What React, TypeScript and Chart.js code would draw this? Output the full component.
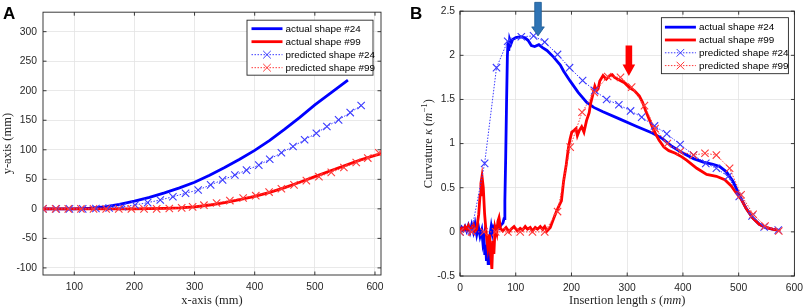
import React, { useEffect, useRef } from 'react';
import { Chart, registerables } from 'chart.js';
Chart.register(...registerables);

// ---------------- Panel A data ----------------
const A_xTicks = [100, 200, 300, 400, 500, 600];
const A_yTicks = [-100, -50, 0, 50, 100, 150, 200, 250, 300];

const A_blueActualX = [48, 75, 100, 125, 150, 175, 200, 225, 250, 275, 300, 325, 350, 375, 400, 425, 450, 475, 500, 525, 555];
const A_blueActualY = [0, 0, 0, 1, 3.5, 7.5, 13, 19.5, 27, 35.5, 45, 57, 70, 84, 99, 116, 135, 155, 176, 195, 218];

const A_redActualX = [48, 100, 150, 200, 225, 250, 275, 300, 325, 350, 375, 400, 425, 450, 475, 500, 525, 550, 575, 600, 612];
const A_redActualY = [0, 0, 0, 0, 0.3, 0.8, 1.8, 3.5, 6.5, 10.5, 15.5, 21, 28, 36, 45, 54.5, 64, 73.5, 82.5, 90.5, 94];

const A_bluePredX = [48, 70, 92, 114, 136, 158, 180, 201, 222, 243, 264, 285, 306, 326.7, 346.6, 367, 386.4, 406.8, 425, 444.4, 463.7, 483, 502.5, 520, 539.5, 558.8, 577];
const A_bluePredY = [0, 0, 0, 0, 0.5, 1.5, 3.5, 6.5, 10.5, 15, 20.5, 26.5, 32, 40.6, 49, 57.3, 65.6, 74, 84, 95, 105.6, 117, 128, 139.5, 150.6, 163, 175];

const A_redPredX = [48, 69, 90, 111, 132, 153, 174, 195, 216, 237, 258, 278.6, 296.8, 315.6, 336.6, 358.7, 380.8, 401.8, 423.9, 444.4, 465.4, 485.9, 506.8, 527.3, 548.3, 568.8, 588, 606.3];
const A_redPredY = [0, 0, 0, 0, 0, 0, 0, 0, 0, 0, 0.5, 1.7, 3.4, 6.2, 10, 14, 18.4, 22.3, 28.4, 34, 40.6, 47.8, 54.5, 61.7, 70, 78.4, 86, 95];

// ---------------- Panel B data ----------------
const B_xTicks = [0, 100, 200, 300, 400, 500, 600];
const B_yTicks = [-0.5, 0, 0.5, 1, 1.5, 2, 2.5];

const B_blueActualS = [0, 3, 6, 9, 12, 15, 18, 21, 24, 27, 30, 33, 36, 39, 41, 43, 44.5, 46, 47.5, 49, 50.5, 52, 54, 56, 58, 60, 63, 66, 70, 74, 77, 79, 80.5, 82, 83.5, 85, 86.2, 87.5, 89, 91.5, 94.4, 100, 109, 116, 122, 128, 134, 141.5, 147.4, 156, 168, 180, 186, 197.5, 212, 227, 240, 256.5, 286, 315, 345, 362.6, 380, 398, 419, 436.6, 454, 466, 478, 490, 501, 513, 525, 537, 548.7, 560.5, 571];
const B_blueActualK = [0.01, 0.05, 0.02, 0.06, 0.01, 0.07, 0.0, 0.08, 0.0, 0.09, -0.03, 0.06, -0.05, 0.02, -0.12, -0.05, -0.26, -0.15, -0.33, -0.14, -0.36, -0.1, -0.03, 0.06, -0.02, 0.05, 0.01, 0.06, 0.04, 0.08, 0.1, 0.15, 0.35, 0.85, 1.45, 1.99, 2.16, 2.05, 2.18, 2.13, 2.18, 2.2, 2.21, 2.2, 2.17, 2.11, 2.1, 2.12, 2.09, 2.055, 1.98, 1.89, 1.82, 1.71, 1.58, 1.47, 1.41, 1.36, 1.28, 1.2, 1.12, 1.06, 0.97, 0.9, 0.83, 0.79, 0.765, 0.74, 0.68, 0.57, 0.42, 0.27, 0.16, 0.086, 0.048, 0.03, 0.019];

const B_redActualS = [0, 3, 6, 9, 12, 15, 18, 21, 24, 27, 30, 33.6, 36, 37.5, 39.5, 41.8, 44.2, 47.2, 50, 53, 54.8, 57.2, 59, 60.8, 63, 66, 68, 70, 72.6, 76.7, 82.6, 88, 91.5, 97, 103, 108, 112, 117, 121, 126, 130, 135, 139, 144, 148, 152, 156, 162, 168, 173, 178, 182, 185.8, 190.6, 194.7, 197.5, 200.6, 204.7, 208.2, 210.6, 214.2, 218.3, 222.4, 227, 231.8, 234.2, 237.8, 241.9, 245, 247.8, 250.8, 256.6, 262.5, 268.5, 273.1, 277.3, 283.2, 295, 303.9, 312.7, 321.6, 327.4, 333.3, 339.2, 345.1, 351, 357, 365.8, 374.7, 386.4, 398, 407, 424.8, 442.5, 460, 475, 486.7, 495.6, 504.4, 513, 525, 537, 548.7, 560.5, 575];
const B_redActualK = [0.01, 0.04, 0.02, 0.06, 0.03, 0.07, 0.0, 0.05, 0.08, 0.01, 0.03, 0.2, 0.42, 0.55, 0.63, 0.5, 0.2, -0.03, -0.18, -0.03, -0.25, -0.42, -0.1, -0.25, 0.05, -0.02, 0.12, 0.16, 0.04, 0.01, 0.05, 0.0, 0.03, 0.06, 0.01, 0.04, 0.02, 0.06, 0.03, 0.05, 0.01, 0.05, 0.03, 0.06, 0.03, 0.06, 0.01, 0.05, 0.15, 0.23, 0.3, 0.35, 0.57, 0.76, 0.96, 1.05, 1.13, 1.15, 1.17, 1.09, 1.15, 1.19, 1.13, 1.26, 1.35, 1.45, 1.54, 1.65, 1.6, 1.62, 1.71, 1.77, 1.73, 1.77, 1.78, 1.75, 1.73, 1.69, 1.635, 1.6, 1.54, 1.47, 1.37, 1.28, 1.19, 1.11, 1.04, 0.96, 0.92, 0.89, 0.85, 0.81, 0.72, 0.65, 0.63, 0.59, 0.52, 0.44, 0.37, 0.27, 0.16, 0.086, 0.05, 0.03, 0.01];

const B_bluePredS = [0, 20.7, 44.2, 65.5, 85.5, 110, 132, 152, 175, 196.5, 220, 241.8, 263, 285, 306, 326, 349, 371, 395, 419, 441, 460, 481, 501, 524, 545.7, 571];
const B_bluePredK = [0, 0.01, 0.776, 1.86, 2.16, 2.21, 2.22, 2.15, 2.01, 1.86, 1.715, 1.6, 1.5, 1.44, 1.37, 1.3, 1.2, 1.11, 0.99, 0.87, 0.776, 0.72, 0.627, 0.4, 0.18, 0.056, 0.02];

const B_redPredS = [0, 21, 43, 64, 86, 108, 130, 152, 175, 197.7, 219, 241, 265, 288, 308, 331, 350, 372, 395, 419, 439.5, 460, 483.7, 504.4, 526, 547.4, 572];
const B_redPredK = [0, 0, 0, 0, 0, 0, 0, 0, 0.23, 0.96, 1.355, 1.58, 1.76, 1.75, 1.64, 1.43, 1.17, 1.0, 0.91, 0.87, 0.89, 0.87, 0.72, 0.42, 0.2, 0.067, 0.01];

// arrow annotations (data space)
const B_arrowS = [140, 303];
const B_arrowTipK = [2.22, 1.766];
const B_arrowTailK = [2.6, 2.11];
const B_arrowColors = ['#2f74b5', '#ff0000'];

const LABELS = ['actual shape #24', 'actual shape #99', 'predicted shape #24', 'predicted shape #99'];

// ---------------- styling ----------------
const SANS = "'Liberation Sans', Arial, Helvetica, sans-serif";
const SERIF = "'Liberation Serif', 'Times New Roman', serif";
const AXIS = '#262626';
const GRID = '#e3e3e3';
const BLUE = '#0000ff';
const RED = '#ff0000';
const BLUE_P = '#3a3aff';
const RED_P = '#ff3a3a';

const zip = (xs: number[], ys: number[]) => xs.map((x, i) => ({ x, y: ys[i] }));

const actualDs = (label: string, xs: number[], ys: number[], color: string, order: number) => ({
  label,
  data: zip(xs, ys),
  borderColor: color,
  backgroundColor: color,
  borderWidth: 2.8,
  pointRadius: 0,
  tension: 0,
  fill: false,
  order,
  clip: 0,
});

const predDs = (label: string, xs: number[], ys: number[], color: string, order: number) => ({
  label,
  data: zip(xs, ys),
  borderColor: color,
  backgroundColor: color,
  borderWidth: 1,
  borderDash: [1.5, 1.5],
  pointStyle: 'crossRot',
  pointRadius: 5.2,
  pointBorderWidth: 1.1,
  pointBorderColor: color,
  pointBackgroundColor: color,
  tension: 0,
  fill: false,
  order,
});

type Seg = { t: string; italic?: boolean; sup?: boolean };

function drawRich(ctx: CanvasRenderingContext2D, segs: Seg[], x: number, y: number, size: number) {
  const fontFor = (s: Seg) => `${s.italic ? 'italic ' : ''}${s.sup ? size * 0.72 : size}px ${SERIF}`;
  let total = 0;
  const ws = segs.map((s) => {
    ctx.font = fontFor(s);
    const w = ctx.measureText(s.t).width;
    total += w;
    return w;
  });
  let cx = x - total / 2;
  ctx.textAlign = 'left';
  ctx.textBaseline = 'alphabetic';
  segs.forEach((s, i) => {
    ctx.font = fontFor(s);
    ctx.fillText(s.t, cx, s.sup ? y - size * 0.4 : y);
    cx += ws[i];
  });
}

type Cfg = {
  letter: string;
  letterX: number;
  letterY: number;
  xTitle: Seg[];
  yTitle: Seg[];
  yTitleX: number;
  legend: { right: number; top: number; w: number; h: number; first: number; gap: number; lx0: number; lx1: number; tx: number };
  arrows?: boolean;
};

function makePlugin(cfg: Cfg) {
  return {
    id: 'matlabLook',
    beforeDatasetsDraw(chart: any) {
      const { ctx, chartArea: ca, scales } = chart;
      ctx.save();
      ctx.strokeStyle = AXIS;
      ctx.lineWidth = 0.9;
      ctx.strokeRect(ca.left, ca.top, ca.right - ca.left, ca.bottom - ca.top);
      const tl = 3.5;
      ctx.beginPath();
      scales.x.ticks.forEach((t: any) => {
        const px = scales.x.getPixelForValue(t.value);
        ctx.moveTo(px, ca.bottom);
        ctx.lineTo(px, ca.bottom - tl);
        ctx.moveTo(px, ca.top);
        ctx.lineTo(px, ca.top + tl);
      });
      scales.y.ticks.forEach((t: any) => {
        const py = scales.y.getPixelForValue(t.value);
        ctx.moveTo(ca.left, py);
        ctx.lineTo(ca.left + tl, py);
        ctx.moveTo(ca.right, py);
        ctx.lineTo(ca.right - tl, py);
      });
      ctx.stroke();
      ctx.restore();
    },
    afterDatasetsDraw(chart: any) {
      if (!cfg.arrows) return;
      const { ctx, scales } = chart;
      ctx.save();
      B_arrowS.forEach((s, i) => {
        const cx = scales.x.getPixelForValue(s);
        const tip = scales.y.getPixelForValue(B_arrowTipK[i]);
        const tail = Math.max(0, scales.y.getPixelForValue(B_arrowTailK[i]));
        const sw = 3.3;
        const hw = 6.3;
        const hl = i === 0 ? 9 : 11.5;
        ctx.beginPath();
        ctx.moveTo(cx - sw, tail);
        ctx.lineTo(cx + sw, tail);
        ctx.lineTo(cx + sw, tip - hl);
        ctx.lineTo(cx + hw, tip - hl);
        ctx.lineTo(cx, tip);
        ctx.lineTo(cx - hw, tip - hl);
        ctx.lineTo(cx - sw, tip - hl);
        ctx.closePath();
        ctx.fillStyle = B_arrowColors[i];
        ctx.fill();
        if (i === 0) {
          ctx.strokeStyle = '#1d5a93';
          ctx.lineWidth = 0.8;
          ctx.stroke();
        }
      });
      ctx.restore();
    },
    afterDraw(chart: any) {
      const { ctx, chartArea: ca } = chart;
      ctx.save();
      // legend
      const L = cfg.legend;
      const lx = ca.right - L.right - L.w;
      const ly = ca.top + L.top;
      ctx.fillStyle = '#ffffff';
      ctx.fillRect(lx, ly, L.w, L.h);
      ctx.strokeStyle = AXIS;
      ctx.lineWidth = 0.9;
      ctx.strokeRect(lx, ly, L.w, L.h);
      chart.data.datasets.forEach((ds: any, i: number) => {
        const ry = ly + L.first + i * L.gap;
        ctx.strokeStyle = ds.borderColor;
        ctx.lineWidth = ds.borderWidth;
        ctx.setLineDash(ds.borderDash || []);
        ctx.beginPath();
        ctx.moveTo(lx + L.lx0, ry);
        ctx.lineTo(lx + L.lx1, ry);
        ctx.stroke();
        ctx.setLineDash([]);
        if (ds.pointRadius > 0) {
          const mx = lx + (L.lx0 + L.lx1) / 2;
          const h = 3.8;
          ctx.lineWidth = 1;
          ctx.beginPath();
          ctx.moveTo(mx - h, ry - h);
          ctx.lineTo(mx + h, ry + h);
          ctx.moveTo(mx + h, ry - h);
          ctx.lineTo(mx - h, ry + h);
          ctx.stroke();
        }
        ctx.fillStyle = '#000000';
        ctx.font = `9.9px ${SANS}`;
        ctx.textAlign = 'left';
        ctx.textBaseline = 'middle';
        ctx.fillText(ds.label, lx + L.tx, ry + 0.5);
      });
      // axis titles
      ctx.fillStyle = AXIS;
      drawRich(ctx, cfg.xTitle, (ca.left + ca.right) / 2, 303.5, 12.5);
      ctx.save();
      ctx.translate(cfg.yTitleX, (ca.top + ca.bottom) / 2);
      ctx.rotate(-Math.PI / 2);
      drawRich(ctx, cfg.yTitle, 0, 0, 12.5);
      ctx.restore();
      // panel letter
      ctx.fillStyle = '#000000';
      ctx.font = `bold 17px ${SANS}`;
      ctx.textAlign = 'left';
      ctx.textBaseline = 'alphabetic';
      ctx.fillText(cfg.letter, cfg.letterX, cfg.letterY);
      ctx.restore();
    },
  };
}

function makeConfig(opts: {
  datasets: any[];
  xMin: number; xMax: number; yMin: number; yMax: number;
  xTicks: number[]; yTicks: number[];
  padRight: number; padTop: number; yWidth: number; xHeight: number; yPad: number;
  plugin: any;
}) {
  const tickFont = { family: SANS, size: 10.3 };
  return {
    type: 'line',
    data: { datasets: opts.datasets },
    options: {
      responsive: false,
      maintainAspectRatio: false,
      animation: false,
      events: [],
      layout: { padding: { top: opts.padTop, right: opts.padRight, left: 0, bottom: 0 } },
      plugins: { legend: { display: false }, tooltip: { enabled: false }, title: { display: false } },
      scales: {
        x: {
          type: 'linear',
          min: opts.xMin,
          max: opts.xMax,
          afterBuildTicks: (s: any) => { s.ticks = opts.xTicks.map((v) => ({ value: v })); },
          afterFit: (s: any) => { s.height = opts.xHeight; },
          grid: { color: GRID, lineWidth: 0.8, drawTicks: false },
          border: { display: false },
          ticks: { padding: 6, color: AXIS, font: tickFont, maxRotation: 0, autoSkip: false, callback: (v: any) => String(v) },
        },
        y: {
          type: 'linear',
          min: opts.yMin,
          max: opts.yMax,
          afterBuildTicks: (s: any) => { s.ticks = opts.yTicks.map((v) => ({ value: v })); },
          afterFit: (s: any) => { s.width = opts.yWidth; },
          grid: { color: GRID, lineWidth: 0.8, drawTicks: false },
          border: { display: false },
          ticks: { padding: opts.yPad, color: AXIS, font: tickFont, autoSkip: false, callback: (v: any) => String(v) },
        },
      },
    },
    plugins: [opts.plugin],
  };
}

export default function App() {
  const refA = useRef<HTMLCanvasElement | null>(null);
  const refB = useRef<HTMLCanvasElement | null>(null);

  useEffect(() => {
    const dsA = [
      actualDs(LABELS[0], A_blueActualX, A_blueActualY, BLUE, 4),
      actualDs(LABELS[1], A_redActualX, A_redActualY, RED, 3),
      predDs(LABELS[2], A_bluePredX, A_bluePredY, BLUE_P, 2),
      predDs(LABELS[3], A_redPredX, A_redPredY, RED_P, 1),
    ];
    const dsB = [
      actualDs(LABELS[0], B_blueActualS, B_blueActualK, BLUE, 4),
      actualDs(LABELS[1], B_redActualS, B_redActualK, RED, 3),
      predDs(LABELS[2], B_bluePredS, B_bluePredK, BLUE_P, 2),
      predDs(LABELS[3], B_redPredS, B_redPredK, RED_P, 1),
    ];
    const pluginA = makePlugin({
      letter: 'A', letterX: 3, letterY: 19,
      xTitle: [{ t: 'x-axis (mm)' }],
      yTitle: [{ t: 'y-axis (mm)' }],
      yTitleX: 11,
      legend: { right: 8, top: 8, w: 126, h: 55, first: 8.5, gap: 13, lx0: 4.5, lx1: 35.5, tx: 38.5 },
    });
    const pluginB = makePlugin({
      letter: 'B', letterX: 10, letterY: 18.5,
      xTitle: [{ t: 'Insertion length ' }, { t: 's', italic: true }, { t: ' (' }, { t: 'mm', italic: true }, { t: ')' }],
      yTitle: [{ t: 'Curvature ' }, { t: 'κ', italic: true }, { t: ' (' }, { t: 'm', italic: true }, { t: '−1', sup: true }, { t: ')' }],
      yTitleX: 32,
      legend: { right: 6, top: 6.5, w: 127, h: 56, first: 9.5, gap: 12.8, lx0: 3.5, lx1: 34.5, tx: 37.5 },
      arrows: true,
    });
    const chartA = new Chart(refA.current as HTMLCanvasElement, makeConfig({
      datasets: dsA, xMin: 48, xMax: 610, yMin: -112, yMax: 333,
      xTicks: A_xTicks, yTicks: A_yTicks, padRight: 19, padTop: 8, yWidth: 43, xHeight: 33, yPad: 6, plugin: pluginA,
    }) as any);
    const chartB = new Chart(refB.current as HTMLCanvasElement, makeConfig({
      datasets: dsB, xMin: 0, xMax: 600, yMin: -0.5, yMax: 2.5,
      xTicks: B_xTicks, yTicks: B_yTicks, padRight: 10, padTop: 8, yWidth: 60, xHeight: 32, yPad: 5, plugin: pluginB,
    }) as any);
    return () => {
      chartA.destroy();
      chartB.destroy();
    };
  }, []);

  return (
    <div style={{ position: 'fixed', left: 0, top: 0, width: 809, height: 308, background: '#ffffff' }}>
      <canvas ref={refA} width={400} height={308} style={{ position: 'absolute', left: 0, top: 0, width: 400, height: 308 }} />
      <canvas ref={refB} width={409} height={308} style={{ position: 'absolute', left: 400, top: 0, width: 409, height: 308 }} />
    </div>
  );
}
